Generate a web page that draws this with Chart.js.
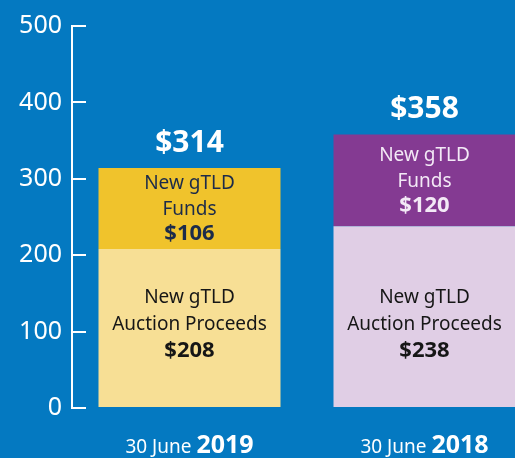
<!DOCTYPE html>
<html>
<head>
<meta charset="utf-8">
<script src="https://cdn.jsdelivr.net/npm/chart.js@4"></script>
<style>
    html, body {
        margin: 0;
        padding: 0;
        overflow: hidden;
        background: #0479c1;
    }
    #chart {
        display: block;
    }
</style>
</head>
<body>
<canvas id="chart" width="546" height="458"></canvas>
<script>

// ==========================
// Data
// ==========================

const categories = ["2019", "2018"];
const auctionValues = [208, 238];
const fundsValues = [106, 120];
const totals = [314, 358];

const fundsColors = ["#f0c32c", "#843a92"];
const auctionColors = ["#f7df95", "#e0cee5"];
const fundsTextColors = ["#1c2b4a", "#f3e9f6"];

const FONT = "'Noto Sans', sans-serif";

// ==========================
// Labels Plugin
// ==========================

const labelPlugin = {
    id: "labels",
    afterDatasetsDraw(chart) {
        const ctx = chart.ctx;
        const auctionMeta = chart.getDatasetMeta(0);
        const fundsMeta = chart.getDatasetMeta(1);
        const xScale = chart.scales.x;

        ctx.save();
        ctx.textAlign = "center";
        ctx.textBaseline = "middle";

        categories.forEach((year, i) => {

            const a = auctionMeta.data[i];
            const f = fundsMeta.data[i];
            const cx = a.x;

            // auction segment
            const ay = a.base - 82;
            ctx.fillStyle = "#161616";
            ctx.font = "19px " + FONT;
            ctx.fillText("New gTLD", cx, ay - 27);
            ctx.fillText("Auction Proceeds", cx, ay);
            ctx.font = "bold 22px " + FONT;
            ctx.fillText("$" + auctionValues[i], cx, ay + 26);

            // funds segment
            const fy = (f.y + f.base) / 2;
            ctx.fillStyle = fundsTextColors[i];
            ctx.font = "19px " + FONT;
            ctx.fillText("New gTLD", cx, fy - 25);
            ctx.fillText("Funds", cx, fy + 1);
            ctx.font = "bold 22px " + FONT;
            ctx.fillText("$" + fundsValues[i], cx, fy + 25);

            // total
            ctx.fillStyle = "#ffffff";
            ctx.font = "bold 30px " + FONT;
            ctx.fillText("$" + totals[i], cx, f.y - 25);

            // x label
            const lx = xScale.getPixelForValue(i);
            ctx.textBaseline = "alphabetic";
            ctx.font = "19px " + FONT;
            const w1 = ctx.measureText("30 June ").width;
            ctx.font = "bold 25px " + FONT;
            const w2 = ctx.measureText(year).width;
            const start = lx - (w1 + w2) / 2;
            ctx.textAlign = "left";
            ctx.font = "19px " + FONT;
            ctx.fillText("30 June ", start, 453);
            ctx.font = "bold 25px " + FONT;
            ctx.fillText(year, start + w1, 453);
            ctx.textAlign = "center";
            ctx.textBaseline = "middle";
        });

        ctx.restore();
    }
};

// ==========================
// Chart
// ==========================

new Chart(document.getElementById("chart"), {
    type: "bar",
    data: {
        labels: categories,
        datasets: [
            {
                label: "New gTLD Auction Proceeds",
                data: auctionValues,
                backgroundColor: auctionColors,
                barPercentage: 0.7745,
                categoryPercentage: 1
            },
            {
                label: "New gTLD Funds",
                data: fundsValues,
                backgroundColor: fundsColors,
                barPercentage: 0.7745,
                categoryPercentage: 1
            }
        ]
    },
    options: {
        responsive: false,
        animation: false,
        layout: {
            padding: { top: 26, bottom: 50, left: 0, right: 4 }
        },
        plugins: {
            legend: { display: false },
            tooltip: { enabled: false }
        },
        scales: {
            x: {
                stacked: true,
                display: false
            },
            y: {
                stacked: true,
                min: 0,
                max: 500,
                afterFit(scale) {
                    scale.width = 72;
                    scale.paddingTop = 0;
                    scale.paddingBottom = 0;
                },
                ticks: {
                    stepSize: 100,
                    color: "#ffffff",
                    padding: 24,
                    font: { family: "'Noto Sans', sans-serif", size: 25 }
                },
                grid: {
                    drawOnChartArea: false,
                    color: "#ffffff",
                    lineWidth: 2,
                    tickLength: -14
                },
                border: {
                    color: "#ffffff",
                    width: 2
                }
            }
        }
    },
    plugins: [labelPlugin]
});

</script>
</body>
</html>
